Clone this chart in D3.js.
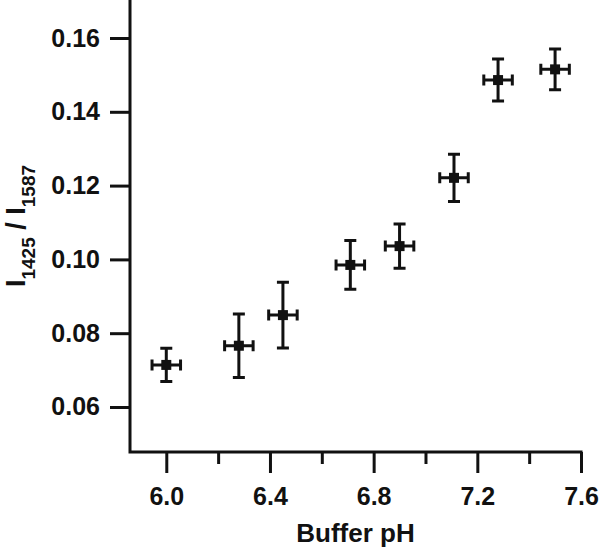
<!DOCTYPE html>
<html>
<head>
<meta charset="utf-8">
<script src="https://cdn.jsdelivr.net/npm/d3@7"></script>
<style>
  body { margin: 0; background: #fff; }
  svg { display: block; }
  text { font-family: "Liberation Sans", Arial, Helvetica, sans-serif; font-weight: bold; fill: #111; }
</style>
</head>
<body>
<figure id="chart" style="margin:0"></figure>
<script>
// values
const ph = [6.00, 6.28, 6.45, 6.71, 6.90, 7.11, 7.28, 7.50];
const phErr = [0.055, 0.055, 0.055, 0.055, 0.055, 0.055, 0.055, 0.055];
const ratio = [0.0714, 0.0766, 0.0849, 0.0985, 0.1036, 0.1221, 0.1486, 0.1515];
const ratioErr = [0.0045, 0.0086, 0.0089, 0.0066, 0.0060, 0.0064, 0.0057, 0.0055];
const xMajor = [6.0, 6.4, 6.8, 7.2, 7.6];
const xMinor = [6.2, 6.6, 7.0, 7.4];
const yTicks = [0.06, 0.08, 0.10, 0.12, 0.14, 0.16];

const width = 600, height = 551;
const ink = "#111";
const lw = 3;

const svg = d3.select("#chart")
  .append("svg")
  .attr("width", width)
  .attr("height", height);

const x = d3.scaleLinear().domain([5.86, 7.6]).range([130, 581]);
const y = d3.scaleLinear().domain([0.0478, 0.1703]).range([452, 0]);

// x axis, major ticks with labels
const gx = svg.append("g")
  .attr("transform", "translate(0,452)")
  .call(d3.axisBottom(x).tickValues(xMajor).tickFormat(d3.format(".1f"))
    .tickSize(21).tickSizeOuter(0).tickPadding(14));
gx.select(".domain").remove();
gx.selectAll("line").attr("stroke", ink).attr("stroke-width", lw);
gx.selectAll("text").attr("font-size", 25).attr("fill", ink);

// x axis minor ticks
const gxm = svg.append("g")
  .attr("transform", "translate(0,452)")
  .call(d3.axisBottom(x).tickValues(xMinor).tickFormat("").tickSize(12).tickSizeOuter(0));
gxm.select(".domain").remove();
gxm.selectAll("line").attr("stroke", ink).attr("stroke-width", lw);

// y axis
const gy = svg.append("g")
  .attr("transform", "translate(130,0)")
  .call(d3.axisLeft(y).tickValues(yTicks).tickFormat(d3.format(".2f"))
    .tickSize(20).tickSizeOuter(0).tickPadding(10));
gy.select(".domain").remove();
gy.selectAll("line").attr("stroke", ink).attr("stroke-width", lw);
gy.selectAll("text").attr("font-size", 25).attr("fill", ink);

// axis frame (left + bottom)
svg.append("path")
  .attr("d", `M${x(5.86)},${y(0.1703)}V${y(0.0478)}H${x(7.6)}`)
  .attr("fill", "none")
  .attr("stroke", ink)
  .attr("stroke-width", lw)
  .attr("stroke-linecap", "square");

// axis titles
svg.append("text")
  .attr("x", (x(5.86) + x(7.6)) / 2)
  .attr("y", 542)
  .attr("text-anchor", "middle")
  .attr("font-size", 26)
  .text("Buffer pH");

const yl = svg.append("text")
  .attr("transform", `translate(25,${(y(0.0478) + y(0.1703)) / 2}) rotate(-90)`)
  .attr("text-anchor", "middle")
  .attr("font-size", 27);
yl.append("tspan").text("I");
yl.append("tspan").attr("font-size", 19).attr("dy", 10).text("1425");
yl.append("tspan").attr("dy", -10).text(" / I");
yl.append("tspan").attr("font-size", 19).attr("dy", 10).text("1587");

// error bars and markers
const pts = ph.map((p, i) => ({p, pe: phErr[i], r: ratio[i], re: ratioErr[i]}));
const g = svg.append("g").attr("stroke", ink).attr("stroke-width", lw).attr("fill", "none");
const capV = 6, capH = 5.5;

g.selectAll(".vbar").data(pts).enter().append("path")
  .attr("d", d => `M${x(d.p)},${y(d.r + d.re)}V${y(d.r - d.re)}` +
    `M${x(d.p) - capV},${y(d.r + d.re)}H${x(d.p) + capV}` +
    `M${x(d.p) - capV},${y(d.r - d.re)}H${x(d.p) + capV}`);

g.selectAll(".hbar").data(pts).enter().append("path")
  .attr("d", d => `M${x(d.p - d.pe)},${y(d.r)}H${x(d.p + d.pe)}` +
    `M${x(d.p - d.pe)},${y(d.r) - capH}V${y(d.r) + capH}` +
    `M${x(d.p + d.pe)},${y(d.r) - capH}V${y(d.r) + capH}`);

svg.selectAll(".mk").data(pts).enter().append("rect")
  .attr("x", d => x(d.p) - 5)
  .attr("y", d => y(d.r) - 5)
  .attr("width", 10)
  .attr("height", 10)
  .attr("fill", ink);
</script>
</body>
</html>
